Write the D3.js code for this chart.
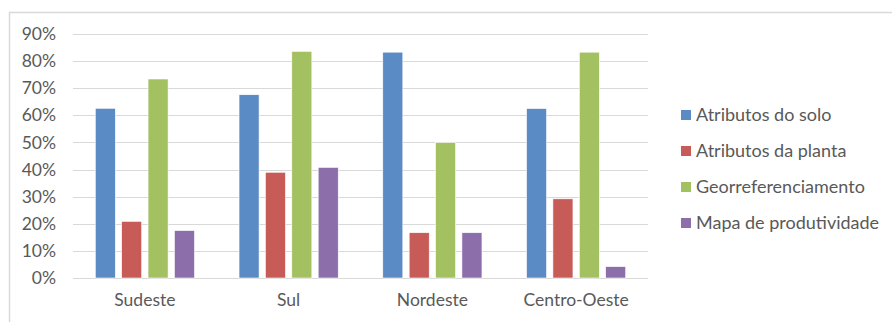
<!DOCTYPE html>
<html>
<head>
<meta charset="utf-8">
<script src="https://cdn.jsdelivr.net/npm/d3@7"></script>
<style>
  body { margin: 0; background: #fff; }
  svg { display: block; }
</style>
</head>
<body>
<div id="chart"></div>
<script>
var regions = ["Sudeste", "Sul", "Nordeste", "Centro-Oeste"];
var seriesNames = ["Atributos do solo", "Atributos da planta", "Georreferenciamento", "Mapa de produtividade"];
var soloVals = [0.626, 0.676, 0.833, 0.625];
var plantaVals = [0.209, 0.39, 0.167, 0.292];
var georrefVals = [0.734, 0.836, 0.50, 0.833];
var mapaVals = [0.175, 0.408, 0.167, 0.042];
var yTicks = [0, 0.1, 0.2, 0.3, 0.4, 0.5, 0.6, 0.7, 0.8, 0.9];
var colors = ["#5b8bc4", "#c65b57", "#a4c162", "#8b6eaa"];

var allVals = [soloVals, plantaVals, georrefVals, mapaVals];

var W = 892, H = 322;
var plot = { left: 73, right: 648, top: 34, bottom: 278 };

var svg = d3.select("#chart")
    .append("svg")
    .attr("width", W)
    .attr("height", H);

// chart frame (only top and left edges visible)
svg.append("path")
    .attr("d", "M9.5," + H + "V12.5H" + W)
    .attr("fill", "none")
    .attr("stroke", "#d9d9d9")
    .attr("stroke-width", 1.5);

var x0 = d3.scaleBand().domain(regions).range([plot.left, plot.right]).paddingInner(0.31).paddingOuter(0.155);
var x1 = d3.scaleBand().domain(seriesNames).range([0, x0.bandwidth()]).paddingInner(0.24);
var y = d3.scaleLinear().domain([0, 0.9]).range([plot.bottom, plot.top]);

var fontFam = "Lato, 'Open Sans', sans-serif";

// gridlines
svg.append("g")
    .selectAll("line")
    .data(yTicks)
    .enter().append("line")
    .attr("x1", plot.left)
    .attr("x2", plot.right)
    .attr("y1", function(d) { return Math.round(y(d)) + 0.5; })
    .attr("y2", function(d) { return Math.round(y(d)) + 0.5; })
    .attr("stroke", "#d9d9d9")
    .attr("stroke-width", 1);

// y axis labels
var yAxis = d3.axisLeft(y).tickValues(yTicks).tickFormat(d3.format(".0%")).tickSize(0).tickPadding(0);
var yg = svg.append("g")
    .attr("transform", "translate(56,0)")
    .call(yAxis);
yg.select(".domain").remove();
yg.selectAll("text")
    .style("font-family", fontFam)
    .style("font-size", "17.5px")
    .attr("fill", "#595959");

// bars
var groups = svg.append("g")
    .selectAll("g")
    .data(regions)
    .enter().append("g")
    .attr("transform", function(d) { return "translate(" + x0(d) + ",0)"; });

groups.selectAll("rect")
    .data(function(d, i) {
        return seriesNames.map(function(s, j) { return { s: s, v: allVals[j][i], c: colors[j] }; });
    })
    .enter().append("rect")
    .attr("x", function(d) { return x1(d.s); })
    .attr("width", x1.bandwidth())
    .attr("y", function(d) { return y(d.v); })
    .attr("height", function(d) { return y(0) - y(d.v); })
    .attr("fill", function(d) { return d.c; })
    .attr("stroke", "#fff")
    .attr("stroke-width", 0.6);

// x axis labels
var xAxis = d3.axisBottom(x0).tickSize(0).tickPadding(0);
var xg = svg.append("g")
    .attr("transform", "translate(0,294)")
    .call(xAxis);
xg.select(".domain").remove();
xg.selectAll("text")
    .style("font-family", fontFam)
    .style("font-size", "17.5px")
    .attr("fill", "#595959");

// legend
var legend = svg.selectAll(".legend")
    .data(seriesNames)
    .enter().append("g")
    .attr("class", "legend")
    .attr("transform", function(d, i) { return "translate(681," + (115 + i * 36) + ")"; });

legend.append("rect")
    .attr("x", 0)
    .attr("y", -5)
    .attr("width", 10)
    .attr("height", 10)
    .attr("fill", function(d, i) { return colors[i]; });

legend.append("text")
    .attr("x", 15)
    .attr("y", 0)
    .attr("dy", "0.35em")
    .text(function(d) { return d; })
    .style("font-family", fontFam)
    .style("font-size", "18px")
    .attr("fill", "#595959");
</script>
</body>
</html>
